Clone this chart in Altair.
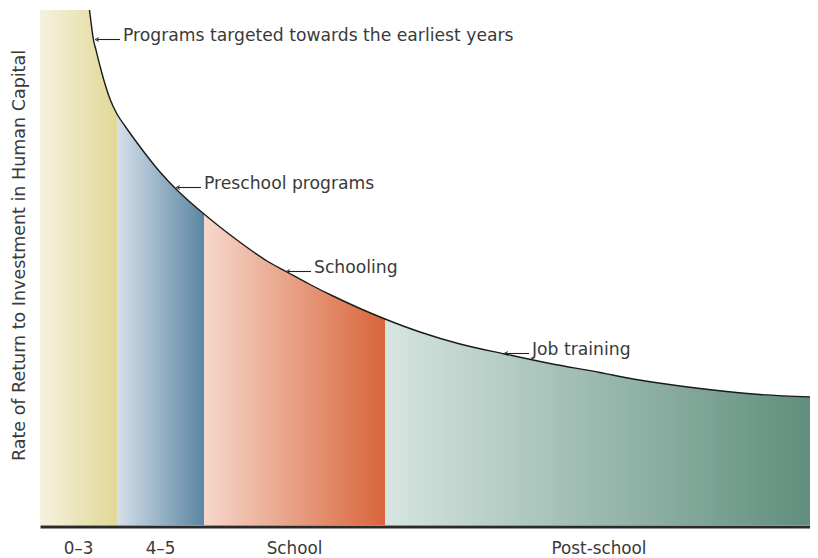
import altair as alt
import pandas as pd

# ---- data ----
# curve: horizontal position (0 = left edge of plot) and height of the return curve
curve_x = [49.5, 51, 53.3, 56, 60, 65, 70, 77, 85, 95, 107, 120, 138, 150, 164, 180, 195,
           210, 227, 247, 270, 293, 320, 345, 380, 420, 465, 510, 560, 593, 640, 673, 720, 773]
curve_y = [515, 503, 486, 475, 459, 441, 426, 411, 399, 385, 369, 353, 334, 323, 311, 298,
           286.5, 275.5, 264, 253, 240.5, 229, 216.5, 206, 193, 181, 171, 161.5, 152.5, 146,
           139, 135, 130.5, 128]

band_names = ["0–3", "4–5", "School", "Post-school"]
band_start = [0, 77, 164, 345]
band_end = [77, 164, 345, 773]
band_left_color = ["#F6F1DE", "#D5DFEA", "#F6D8CC", "#D6E5E0"]
band_right_color = ["#E1D896", "#5B86A2", "#D9653A", "#5F8E7C"]

ann_labels = ["Programs targeted towards the earliest years", "Preschool programs",
              "Schooling", "Job training"]
ann_tip_x = [57, 138, 248, 466]
ann_end_x = [80, 161, 271, 489]
ann_y = [485.5, 337.5, 253.5, 171.5]

X_VIEW = 770   # visible part of the horizontal range (page width limit)
Y_MAX = 515
FONT = "DejaVu Sans"
FS = 17.2
TXT = "#3a3a3a"

curve = pd.DataFrame({"x": curve_x, "y": curve_y})

x_scale = alt.Scale(domain=[0, X_VIEW], nice=False, zero=False)
x_axis = alt.Axis(domain=True, domainColor="#2a2a2a", domainWidth=3, ticks=False,
                  labels=False, grid=False, title=None, offset=1.5)
x_enc = alt.X("x:Q", scale=x_scale, axis=x_axis)
y_enc = alt.Y("y:Q", scale=alt.Scale(domain=[0, Y_MAX], nice=False),
              axis=alt.Axis(domain=False, ticks=False, labels=False, grid=False,
                            title="Rate of Return to Investment in Human Capital",
                            titleFont=FONT, titleFontSize=17.5, titleFontWeight="normal",
                            titleColor=TXT, titleX=-21, titleY=245, titleAngle=270,
                            titleAlign="center", titleBaseline="middle"))

layers = []
for i, name in enumerate(band_names):
    seg = curve[(curve.x >= band_start[i]) & (curve.x <= band_end[i])]
    if i == 0:
        seg = pd.concat([pd.DataFrame({"x": [band_start[0]], "y": [Y_MAX]}), seg])
    grad = alt.Gradient(gradient="linear",
                        stops=[alt.GradientStop(color=band_left_color[i], offset=0),
                               alt.GradientStop(color=band_right_color[i], offset=1)],
                        x1=0, x2=1, y1=0, y2=0)
    layers.append(
        alt.Chart(seg).mark_area(interpolate="monotone", color=grad, clip=True)
        .encode(x=x_enc, y=y_enc)
    )

line = alt.Chart(curve).mark_line(interpolate="monotone", color="#1a1a1a",
                                  strokeWidth=1.4, clip=True).encode(x=x_enc, y=y_enc)

bands = pd.DataFrame({"name": band_names, "x0": band_start, "x1": band_end})
band_text = alt.Chart(bands).transform_calculate(x="(datum.x0 + datum.x1) / 2").mark_text(
    font=FONT, fontSize=16.8, color=TXT, baseline="alphabetic", align="center"
).encode(x=x_enc, y=alt.value(544), text="name:N")

ann = pd.DataFrame({"label": ann_labels, "x": ann_tip_x, "x2": ann_end_x, "y": ann_y})
ann_rule = alt.Chart(ann).mark_rule(color="#222222", strokeWidth=1.1).encode(
    x=x_enc, x2="x2:Q", y=y_enc)
ann_head = alt.Chart(ann).mark_point(shape="M1,-1L-1,0L1,1", size=14, filled=False,
                                     color="#222222", strokeWidth=1, opacity=1).encode(
    x=x_enc, y=y_enc)
ann_text = alt.Chart(ann).transform_calculate(tx="datum.x2 + 3").mark_text(
    font=FONT, fontSize=FS, color=TXT, align="left", baseline="alphabetic", dy=1
).encode(x=alt.X("tx:Q", scale=x_scale, axis=x_axis), y=y_enc, text="label:N")

chart = alt.layer(*layers, line, band_text, ann_rule, ann_head, ann_text).properties(
    width=X_VIEW, height=Y_MAX,
    autosize=alt.AutoSizeParams(type="none"),
    padding={"left": 32, "top": 2, "right": 0, "bottom": 33},
).configure_view(stroke=None)

chart.save("out.html", embed_options={"renderer": "svg", "actions": False})
